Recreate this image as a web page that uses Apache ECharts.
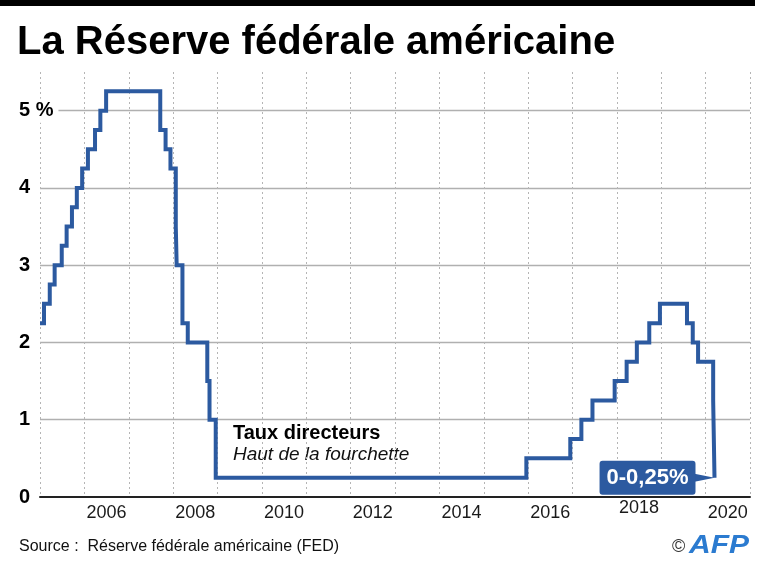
<!DOCTYPE html>
<html>
<head>
<meta charset="utf-8">
<script src="https://cdn.jsdelivr.net/npm/echarts@6/dist/echarts.min.js"></script>
<style>
html,body{margin:0;padding:0;background:#fff;}
#chart{width:768px;height:572px;}
</style>
</head>
<body>
<div id="chart"></div>
<script>
// ---- data (decimal year when the upper target rate changed, and new rate in %) ----
const changeDates = [2005.00, 2005.09, 2005.22, 2005.33, 2005.49, 2005.60, 2005.72, 2005.83, 2005.95,
  2006.08, 2006.24, 2006.36, 2006.49, 2007.71, 2007.83, 2007.94, 2008.06, 2008.08, 2008.21, 2008.33,
  2008.77, 2008.82, 2008.96, 2015.96, 2016.95, 2017.20, 2017.45, 2017.95, 2018.22, 2018.45, 2018.73,
  2018.97, 2019.58, 2019.71, 2019.83, 2020.17, 2020.20];
const rates = [2.25, 2.50, 2.75, 3.00, 3.25, 3.50, 3.75, 4.00, 4.25,
  4.50, 4.75, 5.00, 5.25, 4.75, 4.50, 4.25, 3.50, 3.00, 2.25, 2.00,
  1.50, 1.00, 0.25, 0.50, 0.75, 1.00, 1.25, 1.50, 1.75, 2.00, 2.25,
  2.50, 2.25, 2.00, 1.75, 1.25, 0.25];
const yearLabels = ['2006', '2008', '2010', '2012', '2014', '2016', '2018', '2020'];
const yTickLabels = ['0', '1', '2', '3', '4', '5 %'];
const titleText = 'La Réserve fédérale américaine';
const seriesTitle = 'Taux directeurs';
const seriesSubtitle = 'Haut de la fourchette';
const calloutText = '0-0,25%';
const sourceText = 'Source :  Réserve fédérale américaine (FED)';

const BLUE = '#2c5aa0';
const FONT = '"Liberation Sans", Arial, sans-serif';
const data = changeDates.map((d, i) => [d, rates[i]]);
const lastPoint = data[data.length - 1];

const chart = echarts.init(document.getElementById('chart'), null, {renderer: 'canvas'});
const option = {
  backgroundColor: '#fff',
  animation: false,
  grid: {left: 40, right: 18, top: 72, bottom: 75, containLabel: false},
  xAxis: [
    {
      type: 'value', min: 2005, max: 2021, interval: 0.5, position: 'bottom',
      axisLine: {show: true, onZero: false, lineStyle: {color: '#222', width: 2}},
      axisTick: {show: false},
      splitLine: {show: false},
      axisLabel: {
        show: true, margin: 7, color: '#1a1a1a',
        fontFamily: FONT, fontSize: 18,
        formatter: function (v) {
          const y = Math.floor(v + 1e-9);
          if (Math.abs(v - y - 0.5) > 1e-6) return '';
          const s = String(y);
          if (yearLabels.indexOf(s) < 0) return '';
          return s === '2018' ? '{up|' + s + '}' : s;
        },
        rich: {up: {fontSize: 18, color: '#1a1a1a', fontFamily: FONT, lineHeight: 8}}
      }
    },
    {
      type: 'value', min: 2005, max: 2021, interval: 1, position: 'top',
      axisLine: {show: false}, axisTick: {show: false}, axisLabel: {show: false},
      splitLine: {show: true, lineStyle: {color: '#b5b5b5', width: 1, type: [2, 3]}}
    }
  ],
  yAxis: {
    type: 'value', min: 0, max: 5.5, interval: 1,
    axisLine: {show: false}, axisTick: {show: false},
    splitLine: {show: true, showMinLine: false, showMaxLine: false, lineStyle: {color: '#b0b0b0', width: 1.3}},
    axisLabel: {
      show: true, align: 'left', margin: 21, color: '#000',
      fontFamily: FONT, fontWeight: 'bold', fontSize: 20,
      formatter: function (v) {
        const idx = Math.round(v);
        if (Math.abs(v - idx) > 1e-6 || idx >= yTickLabels.length) return '';
        const s = yTickLabels[idx];
        return idx === 5 ? '{p|' + s + '}' : s;
      },
      rich: {p: {backgroundColor: '#fff', padding: [2, 5, 2, 0], fontWeight: 'bold', fontSize: 20, color: '#000', fontFamily: FONT}}
    }
  },
  series: [{
    type: 'line', step: 'end', xAxisIndex: 0, yAxisIndex: 0,
    data: data, showSymbol: false, symbol: 'none',
    lineStyle: {color: BLUE, width: 4, join: 'miter'},
    z: 5,
    markPoint: {
      silent: true,
      data: [
        {coord: lastPoint, symbol: 'path://M0,0L20,3.5L0,7Z', symbolSize: [20, 8], symbolOffset: [-10, 0],
          itemStyle: {color: BLUE}, label: {show: false}},
        {coord: lastPoint, symbol: 'rect', symbolSize: 0.01,
          label: {show: true, position: 'left', distance: 19, formatter: calloutText,
            backgroundColor: BLUE, color: '#fff', borderRadius: 3, padding: [6, 7, 6, 7],
            fontFamily: FONT, fontWeight: 'bold', fontSize: 22}}
      ]
    }
  }],
  graphic: [
    {type: 'rect', left: 0, top: 0, shape: {width: 755, height: 6}, style: {fill: '#000'}},
    {type: 'text', x: 17, y: 43, style: {text: titleText, fill: '#000',
      font: 'bold 40px ' + FONT, verticalAlign: 'middle'}},
    {type: 'text', x: 233, y: 433, style: {text: seriesTitle, fill: '#000',
      font: 'bold 20px ' + FONT, verticalAlign: 'middle'}},
    {type: 'text', x: 233, y: 455, style: {text: seriesSubtitle, fill: '#111',
      font: 'italic 19px ' + FONT, verticalAlign: 'middle'}},
    {type: 'text', x: 19, y: 547, style: {text: sourceText, fill: '#111',
      font: '16px ' + FONT, verticalAlign: 'middle'}},
    {type: 'text', x: 672, y: 547, style: {text: '©', fill: '#333',
      font: '18px ' + FONT, verticalAlign: 'middle'}},
    {type: 'text', x: 689, y: 546, scaleX: 1.2, style: {text: 'AFP', fill: '#2b7bd0',
      font: 'italic bold 25px ' + FONT, verticalAlign: 'middle'}}
  ]
};
chart.setOption(option);
</script>
</body>
</html>
